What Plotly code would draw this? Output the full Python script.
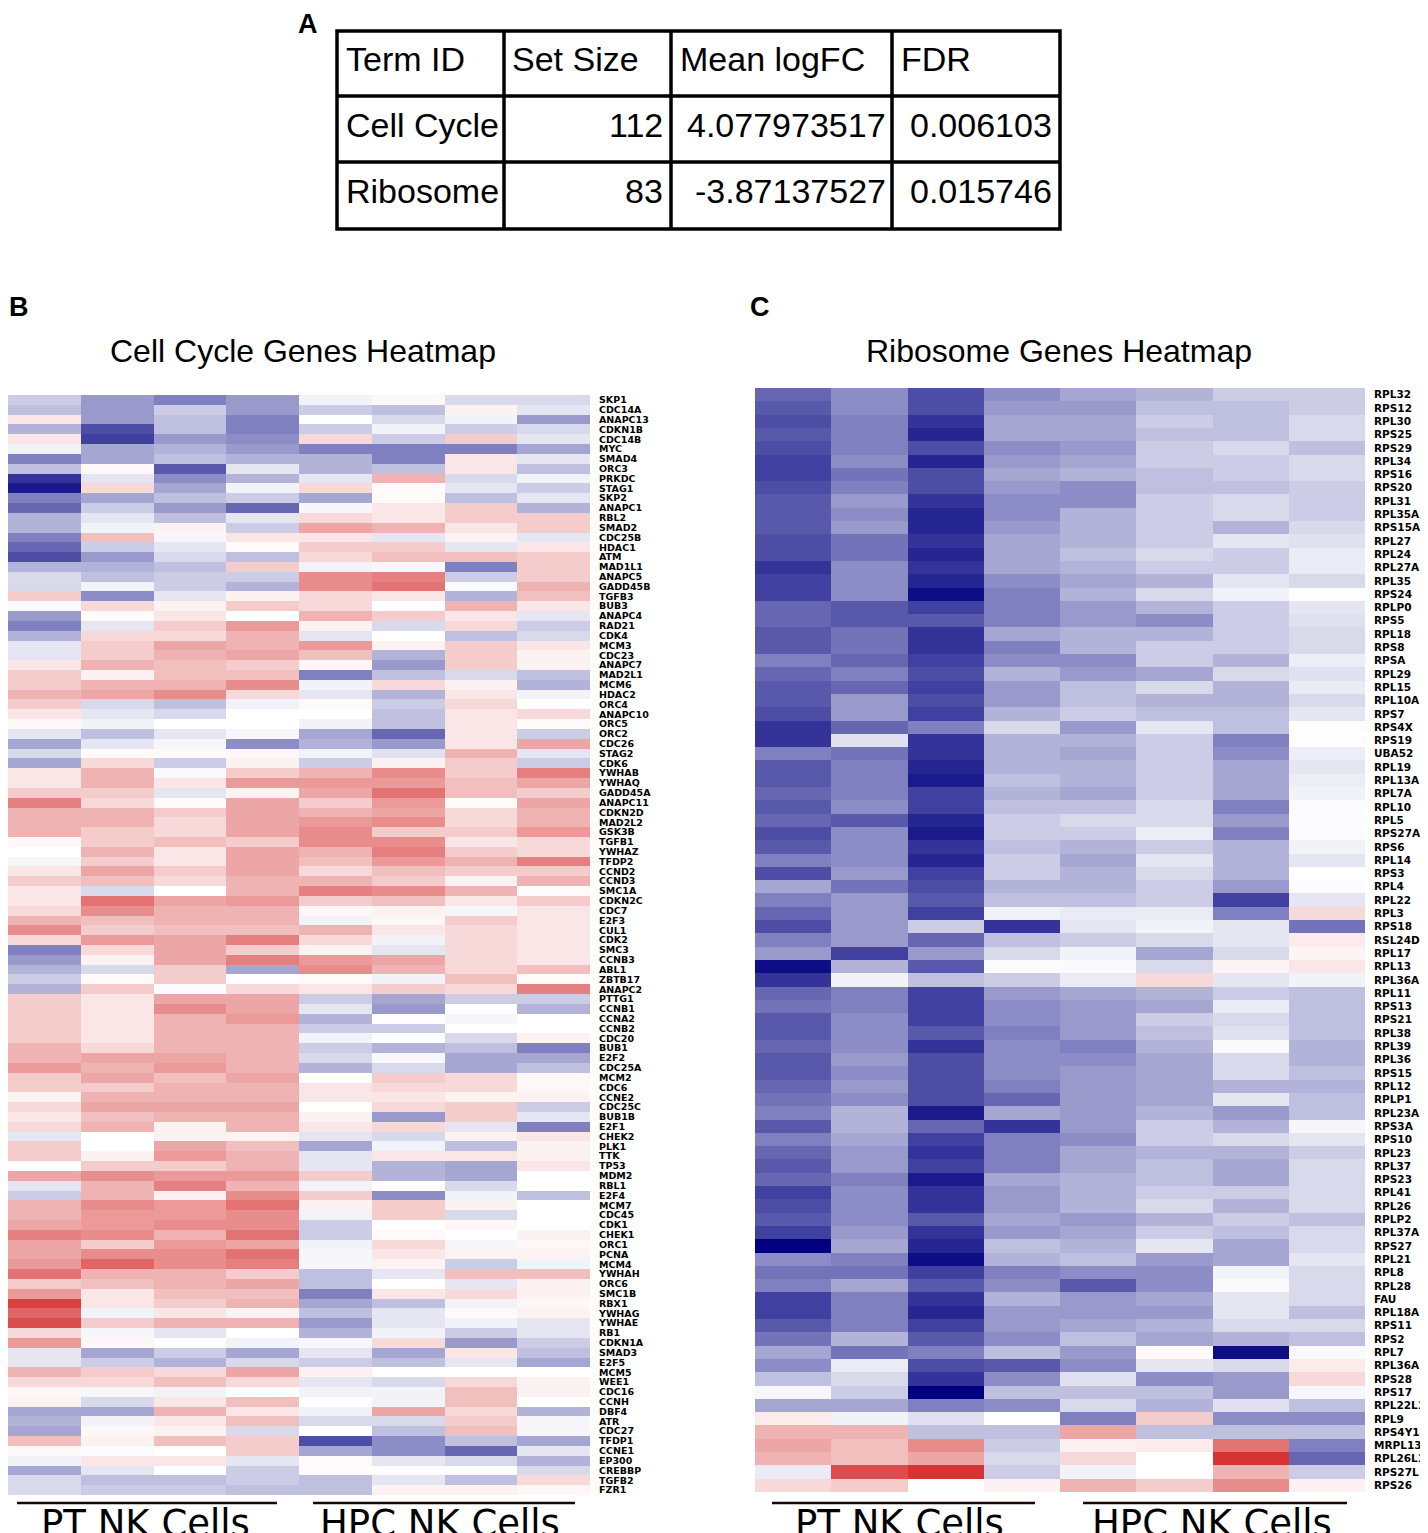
import plotly.graph_objects as go

# page is drawn with an 8px body margin, so the figure is a bit smaller
# and every reference pixel coordinate is shifted by OFF
OFF = 8
W, H = 1420, 1525

# ---- table (panel A) ----
table_header = ["Term ID", "Set Size", "Mean logFC", "FDR"]
term_ids = ["Cell Cycle", "Ribosome"]
set_sizes = ["112", "83"]
mean_logfc = ["4.077973517", "-3.87137527"]
fdr = ["0.006103", "0.015746"]

samples = ["PT1", "PT2", "PT3", "PT4", "HPC1", "HPC2", "HPC3", "HPC4"]
group_names = ["PT NK Cells", "HPC NK Cells"]

# ---- cell cycle heatmap (panel B) ----
cc_genes = [
    "SKP1", "CDC14A", "ANAPC13", "CDKN1B", "CDC14B", "MYC", "SMAD4", "ORC3", "PRKDC", "STAG1",
    "SKP2", "ANAPC1", "RBL2", "SMAD2", "CDC25B", "HDAC1", "ATM", "MAD1L1", "ANAPC5", "GADD45B",
    "TGFB3", "BUB3", "ANAPC4", "RAD21", "CDK4", "MCM3", "CDC23", "ANAPC7", "MAD2L1", "MCM6",
    "HDAC2", "ORC4", "ANAPC10", "ORC5", "ORC2", "CDC26", "STAG2", "CDK6", "YWHAB", "YWHAQ",
    "GADD45A", "ANAPC11", "CDKN2D", "MAD2L2", "GSK3B", "TGFB1", "YWHAZ", "TFDP2", "CCND2", "CCND3",
    "SMC1A", "CDKN2C", "CDC7", "E2F3", "CUL1", "CDK2", "SMC3", "CCNB3", "ABL1", "ZBTB17",
    "ANAPC2", "PTTG1", "CCNB1", "CCNA2", "CCNB2", "CDC20", "BUB1", "E2F2", "CDC25A", "MCM2",
    "CDC6", "CCNE2", "CDC25C", "BUB1B", "E2F1", "CHEK2", "PLK1", "TTK", "TP53", "MDM2",
    "RBL1", "E2F4", "MCM7", "CDC45", "CDK1", "CHEK1", "ORC1", "PCNA", "MCM4", "YWHAH",
    "ORC6", "SMC1B", "RBX1", "YWHAG", "YWHAE", "RB1", "CDKN1A", "SMAD3", "E2F5", "MCM5",
    "WEE1", "CDC16", "CCNH", "DBF4", "ATR", "CDC27", "TFDP1", "CCNE1", "EP300", "CREBBP",
    "TGFB2", "FZR1",
]
cc_values = [
    [-2, -4, -5, -4, -0.5, 0.3, -1.5, -1.5],
    [-2.5, -4, -2, -4, -2, -2.5, 0.5, -1],
    [1, -4, -2.5, -5, 0, -1.5, -0.5, -4],
    [-3, -7, -2.5, -5, -2, -0.5, -2, -1.5],
    [1, -7.5, -4, -4.5, 1.5, -2, 2, -1],
    [-0.5, -3.5, -3, -4, -5, -5, -5, -3.5],
    [-5, -3.5, -2.5, -3, -3, -5, 1, -1],
    [-2.5, 0.3, -6.5, -1, -3, -2.5, 1, -2.5],
    [-8, -1, -4.5, -3, -1, 3, -1.5, -0.5],
    [-9, 1.5, -3.5, -0.5, 1.5, 0.2, -1, -2],
    [-5, -3.5, -2.5, -2, -3.5, 0.2, -2.5, -1],
    [-6, -2, -4, -6, -0.3, 1, 2, -3],
    [-3, -1, -2.5, -1, 1.5, 1, 2, 2],
    [-3, -0.5, 0.5, -2, 3.5, 3, 1, 2],
    [-5, 2.5, -0.3, 1, 1, -1, 0.5, -1],
    [-6, -2, -1, 0.2, 2, 2, -1, 1],
    [-7, -4, -1.5, -2.5, 1.5, 2.5, 2.5, 2],
    [-3, -3, -2.5, 2, -0.5, -0.3, -5, 2],
    [-1.5, -2.5, -2, -2, 4.5, 5, -2, 2],
    [-1.5, -0.5, -2, -3, 4.5, 5.5, -0.2, 3],
    [2, -4.5, -1, 0.5, 1.5, 1, -3, 2.5],
    [-0.2, 1.5, 0.5, 2, 1.5, 0, 3, 1],
    [-4, 0.2, 1, 0, 3, 2, 1, -1],
    [-5, -1, 2, 4, 0.5, -1.5, 1.5, -2],
    [-3, 1.5, 1.5, 3, -1, 0, -2.5, -1.5],
    [-1, 2, 3.5, 3, 4, 0.5, 2, 1],
    [-1, 2, 3, 3.5, 2.5, -3, 2, 0.5],
    [1, 3, 2.5, 2, 0.3, -4, 2, 0.5],
    [2, 0.5, 2.5, 2.5, -5, -2.5, -1.5, -2.5],
    [2, 3, 3, 4.5, -0.5, 1.5, 0.5, -3],
    [3, 3.5, 4.5, 1.5, -1, -3, 1, -0.5],
    [2, -1.5, -2.5, -0.5, 0.2, -2, 1.5, 0],
    [1, -1, -1.5, 0, 0, -2.5, 1, 1.5],
    [0.3, -0.5, 0, 0, -0.5, -2.5, 1, 0.2],
    [-1, -2.5, -1, -0.3, -3.5, -6, 1, -2],
    [-3.5, -1, -0.3, -4.5, -3, -4, 1, 3.5],
    [-1.5, 0.2, 0.2, 0.3, -0.5, -1.2, 3, -1],
    [-3.5, 1.5, -2, 0.5, -2, 0.5, 2, -2],
    [1, 3, -0.2, 2, 3, 4.5, 2, 5],
    [1, 3, 1, 4, 4, 4, 2.5, 3.5],
    [2, 2, -1, 0.5, 3.5, 5.5, 2.5, 2],
    [5, 1.5, 0.2, 3.5, 2, 4, 0.2, 3.5],
    [3, 3, 2, 3.5, 3, 3.5, 1.5, 3],
    [3, 3, 1.5, 3.5, 4, 4.5, 1.5, 3],
    [3, 2, 1.5, 3.5, 4.5, 2, 2, 4],
    [0.3, 2, 2.5, 2, 4.5, 4.5, 1, 1.5],
    [0, 3, 1, 3.5, 3, 5, 2, 1.5],
    [-0.3, 2, 1, 3.5, 2.5, 4, 3, 5],
    [1, 3.5, 2, 3.5, 1.5, 2.5, 2, 2],
    [2, 2.5, 1.5, 3, 3, 2, 0.5, 3],
    [1, -1.5, 0, 3, 5, 4.5, 3, 0.2],
    [1, 5.5, 3.5, 4, 2, 2.5, 1, 2],
    [1.5, 4.5, 3, 3, 0.3, 0.5, -0.3, 1],
    [3, 2.5, 3, 3, -0.5, 0.3, 2, 1],
    [4.5, 2, 2.5, 2.5, 3, 1, 1.5, 1],
    [1.5, 4, 3.5, 5, 1.5, -0.5, 1.5, 1],
    [-5, 1.5, 3.5, 2, 0.5, -1, 1.5, 1],
    [-4, 0.5, 3.5, 5, 4, 3.5, 1.5, 1],
    [-3, -1.5, 2, -3.5, 4.5, 3, 1.5, 2.5],
    [-2, 0.2, 2, 0, 0.2, -0.5, 2.5, 0.2],
    [-3, 2, -0.1, 1.5, 1, 2, 1.5, 5],
    [2, 1, 3.5, 3.5, -2, -3.5, -2, -2],
    [2, 1, 4.5, 3.5, -1, -4, 0, -3],
    [2, 1, 3, 4, -3, 0.1, -0.3, 0],
    [2, 1, 3, 3, -2, -2, 0, 0],
    [2, 1, 3, 3, -0.5, 0, -1.5, 0.5],
    [3, 1.5, 3, 3, -2, -3, -2.5, -5],
    [3, 3.5, 3.5, 3, -1.5, -0.3, -3.5, -3.5],
    [4, 3, 4, 3, -3, -1.5, -3.5, -2.5],
    [2, 3.5, 2.5, 3.5, 0, 2, 1.5, 0.3],
    [2, 2, 3, 3, 1, 1.5, 1.5, 0.3],
    [0.5, 3, 3, 3, 1, 1, 0.5, 0.5],
    [1.5, 3.5, 3.5, 3.5, 0, 1.5, 2, -2],
    [1, 2.5, 3, 3, 0.5, -4, 2, -1],
    [1.5, 3, 0.5, 3, 1, 1.5, -1, -5],
    [-1, 0, 0.5, 0.5, -1, -1.5, 0.5, 1],
    [2, 0, 3.5, 2.5, -3.5, -0.5, -2.5, 0.5],
    [2, 0.5, 4, 3, -1, 1, 1, 0.5],
    [0, 2, 2, 3, -1, -3, -3.5, 1],
    [3.5, 4.5, 4, 4, 2, -3, -3.5, 0],
    [-1, 3, 5, 3, -0.5, 0, -1.5, 0],
    [-2, 3, 0.5, 4.5, 2, -4.5, -0.5, -2.5],
    [3, 4.5, 4, 5.5, 0.5, 2, 0.5, 0],
    [3, 4, 4, 4.5, -0.5, 2, -1.5, 0],
    [3.5, 4, 4.5, 4.5, -2, 0, 0.3, 0],
    [5, 4.5, 3, 5.5, -2, 0.2, 0, 0.5],
    [3.5, 2, 4, 3.5, -0.5, 1.5, -0.3, 0.3],
    [3.5, 4.5, 4.5, 5.5, -0.3, 1, 0.5, 0.5],
    [4, 6, 4.5, 5, -0.3, 0.5, -2, -0.5],
    [5.5, 3, 3, 2, -2.5, -1, 2.5, 2.5],
    [2, 2.5, 3, 3.5, -2.5, 0, -1, 0.5],
    [4, 1, 2.5, 2.5, -5, 1, 1.5, 0.5],
    [7.5, 1, 2, 3, -3.5, -2.5, -0.5, 0.3],
    [6, -0.5, 1, 0.5, -2.5, -1, 0.2, 0.5],
    [7, 2, 3, 3, -4, -1, -0.5, -1],
    [1.5, -0.3, -1, 0, -3, -0.5, -2, -1],
    [4, 0.3, 0, -0.5, -0.3, 1.5, -4, -2],
    [-1, -3.5, -2, -3.5, -1, -3.5, 1, -2.5],
    [-1, -2, -3, -1.5, -2, -2.5, -1, -3.5],
    [3, 2, 1.5, 3.5, 0.5, 0, 0, 0],
    [1.5, 1.5, 2.5, 1.5, -1, -1.5, 1.5, 0.5],
    [0.3, -0.3, -0.5, 0, -0.5, -0.5, 2.5, 0.5],
    [0.5, -1.5, 1, 2.5, 0, -0.5, 2.5, 0],
    [-3.5, -3.5, 3, 1, -0.5, 3.5, 1.5, -3],
    [-3, -0.5, 1, 2.5, -1.5, -1.5, 2, -0.3],
    [-3.5, 0.3, 0.5, -1.5, 0, -2.5, 2.5, -0.3],
    [2.5, 0.5, 2.5, 2, -7, -4.5, -2.5, -3.5],
    [0.3, -0.1, 0, 2, -3.5, -4.5, -6, -1],
    [-0.5, 1, 1, -1, 0.2, -1, -1.5, -3],
    [-3.5, -1, 0, -2, 0.1, 0.1, 0, -1.5],
    [-1.5, -2.5, -2.5, -2, -2.5, -1, -2.5, 1.5],
    [-1.5, -2, -2, -2.5, -2.5, 0.5, 0.5, 0.3],
]

# ---- ribosome heatmap (panel C) ----
ribo_genes = [
    "RPL32", "RPS12", "RPL30", "RPS25", "RPS29", "RPL34", "RPS16", "RPS20", "RPL31", "RPL35A",
    "RPS15A", "RPL27", "RPL24", "RPL27A", "RPL35", "RPS24", "RPLP0", "RPS5", "RPL18", "RPS8",
    "RPSA", "RPL29", "RPL15", "RPL10A", "RPS7", "RPS4X", "RPS19", "UBA52", "RPL19", "RPL13A",
    "RPL7A", "RPL10", "RPL5", "RPS27A", "RPS6", "RPL14", "RPS3", "RPL4", "RPL22", "RPL3",
    "RPS18", "RSL24D1", "RPL17", "RPL13", "RPL36AL", "RPL11", "RPS13", "RPS21", "RPL38", "RPL39",
    "RPL36", "RPS15", "RPL12", "RPLP1", "RPL23A", "RPS3A", "RPS10", "RPL23", "RPL37", "RPS23",
    "RPL41", "RPL26", "RPLP2", "RPL37A", "RPS27", "RPL21", "RPL8", "RPL28", "FAU", "RPL18A",
    "RPS11", "RPS2", "RPL7", "RPL36A", "RPS28", "RPS17", "RPL22L1", "RPL9", "RPS4Y1", "MRPL13",
    "RPL26L1", "RPS27L", "RPS26",
]
ribo_values = [
    [-6, -4.5, -7, -4.5, -3.5, -3, -2, -2],
    [-6.5, -4.5, -7, -4, -4, -2.5, -2.5, -2],
    [-7, -5, -8, -3.5, -3.5, -2, -2.5, -1.5],
    [-6.5, -5, -8.5, -3.5, -3.5, -2.5, -2.5, -1.5],
    [-7, -5, -7, -4.5, -4, -2, -1.5, -2.5],
    [-7.5, -4.5, -8.5, -4, -3.5, -2, -2, -1.5],
    [-7.5, -5.5, -7, -3.5, -3, -2.5, -2, -1.5],
    [-7, -5, -7, -4, -4.5, -2.5, -2.5, -2],
    [-6.5, -4, -8, -4.5, -4.5, -2, -1.5, -2],
    [-6.5, -4.5, -8.5, -4.5, -3, -2, -1.5, -2],
    [-6.5, -4, -8.5, -4, -3, -2, -3, -1.5],
    [-7, -5.5, -8, -3.5, -3, -2, -1, -1.2],
    [-7, -5.5, -8.5, -3.5, -2.5, -1.5, -2, -0.8],
    [-8, -4.5, -8, -3.5, -3, -2, -2, -0.8],
    [-7.5, -4.5, -8.5, -4.5, -3.5, -3, -1, -1.5],
    [-7.5, -4.5, -9.5, -5, -3, -1.5, -0.5, 0.1],
    [-6, -6.5, -7.5, -5, -4, -3, -2, -1],
    [-6, -6.5, -6.5, -5, -4, -4.5, -2, -1.2],
    [-6.5, -5.5, -8, -3.5, -3, -3, -2, -1.5],
    [-6.5, -5.5, -8, -5, -3, -2, -2, -1.5],
    [-5, -6, -7.5, -4.5, -4.5, -2, -3, -0.7],
    [-6, -5, -7, -3, -4, -3.5, -1.5, -1.2],
    [-6.5, -6, -7.5, -4, -2.5, -1.5, -3, -0.8],
    [-6.5, -4, -7, -4, -2.5, -3, -3, -1.5],
    [-7, -4, -7.5, -3, -2, -2.5, -2.5, -1],
    [-8, -6, -5, -1.5, -4, -1, -2.5, 0.1],
    [-8, -1.2, -8, -3, -3, -2, -5, 0.1],
    [-5, -5.5, -8, -3, -3.5, -2, -4.5, -0.7],
    [-6.5, -5, -8.5, -3, -3, -2, -3.5, -1],
    [-6.5, -5, -9, -2.5, -3, -2, -3.5, -0.7],
    [-6, -5, -7.5, -3, -3.5, -2, -3.5, -0.5],
    [-6.5, -4.5, -7.5, -2.5, -2.5, -1.5, -5, -0.1],
    [-6, -6.5, -8.5, -2, -1.5, -1.5, -4, -0.1],
    [-7, -4.5, -9, -2, -2, -0.7, -5, -0.1],
    [-6.5, -4.5, -8, -2.5, -3, -2, -3, -0.5],
    [-5, -4.5, -8.5, -2, -3.5, -1, -3, -1],
    [-7, -4, -7.5, -2, -3, -1.5, -3, 0],
    [-3.5, -5.5, -7, -3, -3, -2, -4, -0.1],
    [-5, -4, -6.5, -2.5, -2.5, -2, -7.5, -1],
    [-6, -4, -7.5, -0.5, -0.8, -0.8, -5, 1.5],
    [-7, -4, -2, -8, -1, -0.5, -1, -5.5],
    [-5, -4, -6, -2.5, -2, -1.5, -1, 0.8],
    [-4, -7.5, -4, -1.5, -0.5, -3.5, -1.5, 0.4],
    [-9.5, -3, -6.5, -0.1, -0.2, -1.5, 0.4, 1],
    [-8, -0.5, -2.5, -2, -0.8, 1.5, -1, -0.5],
    [-6, -5, -7.5, -4, -3.5, -3, -2, -2.5],
    [-5.5, -5, -7.5, -4.5, -4, -3.5, -0.8, -2.5],
    [-6.5, -4.5, -7.5, -4.5, -4, -2, -1.5, -2.5],
    [-6.5, -4.5, -6.5, -5, -4, -2.5, -1.2, -2.5],
    [-6, -4.5, -8, -4.5, -5, -3, -0.2, -3],
    [-6.5, -4, -7, -4.5, -4.5, -3.5, -1.5, -3],
    [-6.5, -4.5, -7, -4.5, -4, -3.5, -1.5, -2.5],
    [-6, -4, -7, -5, -4, -3.5, -3, -3],
    [-5.5, -4.5, -7, -6, -4, -3.5, -1, -2.5],
    [-5, -3, -9, -3.5, -4, -3, -4, -2.5],
    [-6.5, -3, -6, -8, -4, -2, -3, -0.3],
    [-5, -3.5, -7.5, -5, -4.5, -2, -1.5, -1],
    [-6, -4, -8, -5, -3.5, -3, -3, -2],
    [-6.5, -4, -7.5, -5, -3.5, -2.5, -3.5, -1.5],
    [-6, -5, -9, -3.5, -3, -2.5, -3.5, -1.5],
    [-7.5, -4.5, -8, -4, -3, -2, -2, -1.5],
    [-7, -4.5, -8, -4, -3, -1.5, -3, -1.5],
    [-6.5, -4.5, -6.5, -3.5, -4, -3, -2, -2.5],
    [-7.5, -4, -8, -4, -3.5, -2, -2.5, -1.5],
    [-10, -3.5, -8.5, -2.5, -3, -1, -3.5, -1.5],
    [-4.5, -5, -9.5, -3, -2.5, -4, -3.5, -1],
    [-5.5, -5.5, -7.5, -5, -4.5, -4.5, -0.5, -1.5],
    [-5, -3.5, -6.5, -4.5, -6.5, -4.5, -0.2, -1.5],
    [-7.5, -5, -8, -3, -4, -3.5, -1, -1.5],
    [-7.5, -5, -8.5, -4, -4, -4, -1, -2.5],
    [-6.5, -5, -7.5, -4, -3.5, -3, -1.5, -1.5],
    [-5.5, -3, -6.5, -4.5, -2.5, -3.5, -3, -2.5],
    [-3.5, -5.5, -5, -2.5, -4, 0.2, -9.5, -0.2],
    [-4.5, -0.8, -7, -6.5, -4.5, -1, -1.5, 0.8],
    [-2.5, -1.5, -8, -4.5, -1.2, -4.5, -4, 1.5],
    [-0.3, -2, -10, -2.5, -2.5, -2.5, -4, -0.3],
    [-3.5, -3.5, -5, -4.5, -1.5, -3, -1.2, -2.5],
    [0.8, -0.5, -1.2, 0, -5, 2, -4.5, -4.5],
    [3, 3, -2.5, -2.5, 3.5, -2.5, -2.5, -2.5],
    [3.5, 2.5, 4.5, -2, 0.5, 0.8, 5.5, -5],
    [3, 2.5, 3.5, -1.5, 1.5, 0, 8, -6],
    [-0.8, 7, 8, -2, -0.5, 0, 3, -2],
    [1.5, 2, 0, 0.5, 3, 2, 4.5, 0.5],
]


def fx(p):
    return max(p - OFF, 0) / W


def fy(p):
    return 1 - max(p - OFF, 0) / H


heat_colors = [[0.0, "#000080"], [0.5, "#ffffff"], [1.0, "#cc0000"]]
sans = "Liberation Sans, Arial, sans-serif"

fig = go.Figure()

fig.add_trace(go.Heatmap(z=cc_values, x=samples, y=cc_genes, zmin=-10, zmax=10,
                         colorscale=heat_colors, showscale=False, xaxis="x", yaxis="y",
                         hovertemplate="%{y} %{x}: %{z}<extra></extra>"))
fig.add_trace(go.Heatmap(z=ribo_values, x=samples, y=ribo_genes, zmin=-10, zmax=10,
                         colorscale=heat_colors, showscale=False, xaxis="x2", yaxis="y2",
                         hovertemplate="%{y} %{x}: %{z}<extra></extra>"))

xax = dict(showticklabels=False, showgrid=False, zeroline=False, ticks="", showline=False)
yax = dict(side="right", showgrid=False, zeroline=False, ticks="", autorange="reversed",
           ticklabelstandoff=8, tickmode="linear")

fig.update_layout(
    width=W, height=H,
    margin=dict(l=0, r=0, t=0, b=0),
    paper_bgcolor="white", plot_bgcolor="white",
    xaxis=dict(xax, domain=[fx(5), fx(590)], anchor="y"),
    yaxis=dict(yax, domain=[fy(1495), fy(395)], anchor="x",
               tickfont=dict(family="DejaVu Sans", size=9.5, weight="bold", color="black")),
    xaxis2=dict(xax, domain=[fx(755), fx(1365)], anchor="y2"),
    yaxis2=dict(yax, domain=[fy(1492), fy(388)], anchor="x2",
                tickfont=dict(family="DejaVu Sans", size=10.5, weight="bold", color="black")),
)

shapes = []
annos = []

# table grid
shapes.append(dict(type="rect", xref="paper", yref="paper", x0=fx(337), x1=fx(1060),
                   y0=fy(229), y1=fy(31), line=dict(color="black", width=3.5)))
for ly in [96, 162]:
    shapes.append(dict(type="line", xref="paper", yref="paper", x0=fx(337), x1=fx(1060),
                       y0=fy(ly), y1=fy(ly), line=dict(color="black", width=3.5)))
for lx in [504, 671, 892]:
    shapes.append(dict(type="line", xref="paper", yref="paper", x0=fx(lx), x1=fx(lx),
                       y0=fy(229), y1=fy(31), line=dict(color="black", width=3.5)))

tfont = dict(family=sans, size=34, color="black")
for txt, lx in zip(table_header, [344, 510, 678, 899]):
    annos.append(dict(text=txt, x=fx(lx), y=fy(59), xanchor="left", yanchor="middle", font=tfont))
row_y = [125, 191]
for i in range(2):
    annos.append(dict(text=term_ids[i], x=fx(344), y=fy(row_y[i]), xanchor="left", yanchor="middle", font=tfont))
    annos.append(dict(text=set_sizes[i], x=fx(665), y=fy(row_y[i]), xanchor="right", yanchor="middle", font=tfont))
    annos.append(dict(text=mean_logfc[i], x=fx(888), y=fy(row_y[i]), xanchor="right", yanchor="middle", font=tfont))
    annos.append(dict(text=fdr[i], x=fx(1054), y=fy(row_y[i]), xanchor="right", yanchor="middle", font=tfont))

# panel letters (kept inside the figure edge)
lfont = dict(family=sans, size=27, color="black")
annos.append(dict(text="<b>A</b>", x=fx(308), y=1, xanchor="center", yanchor="top", font=lfont, borderpad=0))
annos.append(dict(text="<b>B</b>", x=0, y=fy(307), xanchor="left", yanchor="middle", font=lfont, borderpad=0))
annos.append(dict(text="<b>C</b>", x=fx(760), y=fy(307), xanchor="center", yanchor="middle", font=lfont))

# heatmap titles
annos.append(dict(text="Cell Cycle Genes Heatmap", x=fx(303), y=fy(351), xanchor="center", yanchor="middle",
                  font=dict(family=sans, size=32, color="black")))
annos.append(dict(text="Ribosome Genes Heatmap", x=fx(1059), y=fy(351), xanchor="center", yanchor="middle",
                  font=dict(family=sans, size=32, color="black")))

# group brackets under heatmaps
for (x0, x1, cx, name) in [(17, 277, 145, group_names[0]), (313, 575, 440, group_names[1]),
                           (772, 1035, 899, group_names[0]), (1083, 1347, 1212, group_names[1])]:
    shapes.append(dict(type="line", xref="paper", yref="paper", x0=fx(x0), x1=fx(x1),
                       y0=fy(1503), y1=fy(1503), line=dict(color="#1a0808", width=2.5)))
    annos.append(dict(text=name, x=fx(cx), y=fy(1500), xanchor="center", yanchor="top",
                      font=dict(family="DejaVu Sans", size=37, color="black")))

for a in annos:
    a.update(xref="paper", yref="paper", showarrow=False)

fig.update_layout(shapes=shapes, annotations=annos)

fig.write_html("out.html")
